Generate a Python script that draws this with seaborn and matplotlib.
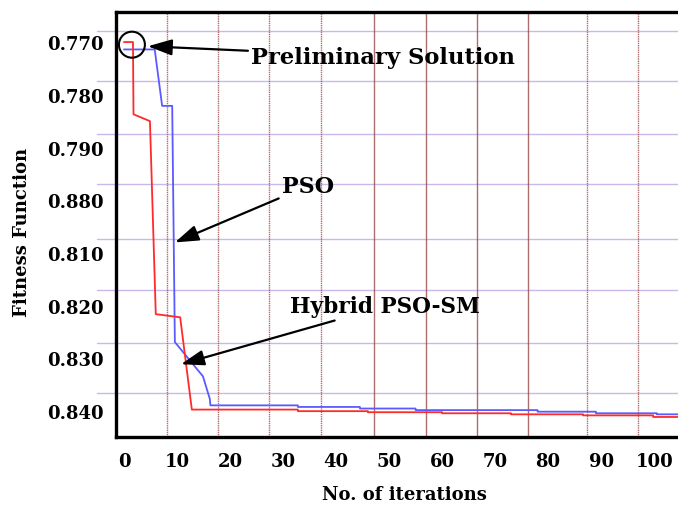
import numpy as np
import pandas as pd
import matplotlib.pyplot as plt
from matplotlib.patches import Ellipse
import seaborn as sns

# --- data ---
pso_iter = [0, 5.8, 7.2, 9.1, 9.6, 14.9, 16.2, 16.3, 32.8, 32.8, 44.5, 44.5,
            55, 55, 78, 78, 89, 89, 100.5, 100.5, 107.5]
pso_fit = [0.7714, 0.7714, 0.7821, 0.7821, 0.8269, 0.8334, 0.8377, 0.8389, 0.8389, 0.8392, 0.8392, 0.8395,
           0.8395, 0.8398, 0.8398, 0.8401, 0.8401, 0.8404, 0.8404, 0.8406, 0.8406]

hyb_iter = [0, 1.7, 1.8, 4.9, 6.0, 10.6, 12.8, 32.8, 32.8, 46, 46, 60, 60,
            73, 73, 86.6, 86.6, 99.8, 99.8, 107.5]
hyb_fit = [0.7700, 0.7700, 0.7837, 0.7850, 0.8216, 0.8222, 0.8397, 0.8397, 0.8400, 0.8400, 0.8402, 0.8402, 0.8404,
           0.8404, 0.8406, 0.8406, 0.8408, 0.8408, 0.8411, 0.8411]

x_ticks = [0, 10, 20, 30, 40, 50, 60, 70, 80, 90, 100]
y_ticks = [0.770, 0.780, 0.790, 0.800, 0.810, 0.820, 0.830, 0.840]
y_tick_labels = ['0.770', '0.780', '0.790', '0.880', '0.810', '0.820', '0.830', '0.840']

h_grid = [0.7679, 0.7774, 0.7875, 0.7969, 0.8074, 0.8171, 0.8271, 0.8366]
v_grid = [8.1, 17.7, 27.4, 37.2, 47.2, 57.0, 66.6, 76.2, 87.4, 97.0]
v_grid_dotted = [True, True, True, True, False, False, False, False, True, True]

df = pd.concat([
    pd.DataFrame({'iteration': pso_iter, 'fitness': pso_fit, 'method': 'PSO'}),
    pd.DataFrame({'iteration': hyb_iter, 'fitness': hyb_fit, 'method': 'Hybrid PSO-SM'}),
])

# --- style ---
sns.set_theme(style="white")
plt.rcParams['font.family'] = ['DejaVu Serif']
plt.rcParams['font.weight'] = 'bold'
plt.rcParams['text.color'] = 'black'
plt.rcParams['xtick.color'] = 'black'
plt.rcParams['ytick.color'] = 'black'

fig = plt.figure(figsize=(6.78, 5.06), dpi=100)
ax = fig.add_axes([116 / 678, 1 - 438 / 506, 578 / 678, 425 / 506])

# grid lines drawn by hand to follow the reference
for y in h_grid:
    ax.axhline(y, xmin=-0.033, xmax=1, color='#c9b8ea', lw=1.0, clip_on=False, zorder=0)
for x, dotted in zip(v_grid, v_grid_dotted):
    ax.axvline(x, color='#9a4a4a', lw=1.0, ls=(0, (1, 0.6)) if dotted else '-', alpha=0.8, zorder=0)

sns.lineplot(data=df, x='iteration', y='fitness', hue='method', sort=False, estimator=None,
             palette={'PSO': '#5a5aff', 'Hybrid PSO-SM': '#ff2a2a'}, lw=1.3, legend=False, ax=ax, zorder=3)

ax.set_xlim(-1.5, 107.5)
ax.set_ylim(0.8449, 0.7643)
ax.set_xticks(x_ticks)
ax.set_yticks(y_ticks)
ax.set_yticklabels(y_tick_labels)
ax.tick_params(axis='both', length=0, labelsize=13, labelcolor='black')
ax.tick_params(axis='x', pad=11)
ax.tick_params(axis='y', pad=9)
ax.set_xlabel('')
ax.set_ylabel('')

for side in ['left', 'top', 'bottom']:
    ax.spines[side].set_color('black')
    ax.spines[side].set_linewidth(2.4)
ax.spines['right'].set_visible(False)

# annotations
ax.add_patch(Ellipse((1.5, 0.7705), 4.9, 0.00493, fill=False, ec='black', lw=1.5, zorder=4, clip_on=False))
arrow = dict(arrowstyle='-|>,head_length=0.9,head_width=0.3', color='black', lw=1.6, shrinkA=0, shrinkB=0)
ax.annotate('Preliminary Solution', xy=(4.5, 0.7708), xytext=(24.0, 0.7728),
            fontsize=16.3, fontweight='bold', ha='left', va='center', arrowprops=arrow)
ax.annotate('PSO', xy=(9.6, 0.8080), xytext=(29.8, 0.7973),
            fontsize=16, fontweight='bold', ha='left', va='center', arrowprops=arrow)
ax.annotate('Hybrid PSO-SM', xy=(10.75, 0.8311), xytext=(31.3, 0.8201),
            fontsize=15.6, fontweight='bold', ha='left', va='center', arrowprops=arrow)

fig.text(22 / 678, 1 - 232 / 506, 'Fitness Function', rotation=90, ha='center', va='center',
         fontsize=13, fontweight='bold')
fig.text(404 / 678, 1 - 495 / 506, 'No. of iterations', ha='center', va='center',
         fontsize=13, fontweight='bold')

fig.savefig('out.png', dpi=100)
